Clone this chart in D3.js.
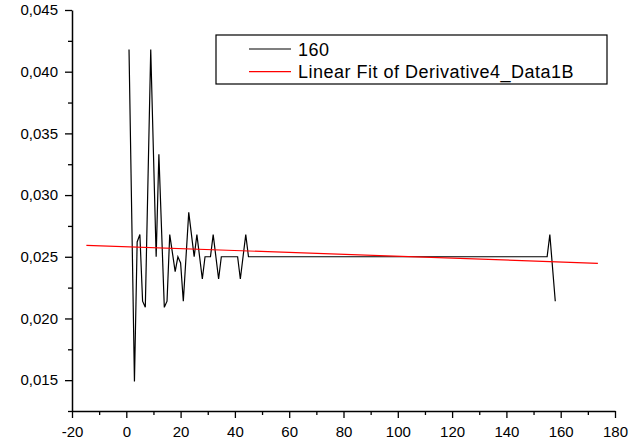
<!DOCTYPE html>
<html>
<head>
<meta charset="utf-8">
<script src="https://cdn.jsdelivr.net/npm/d3@7"></script>
<style>
    body { margin: 0; background: #fff; }
    text { font-family: Arial, "Liberation Sans", sans-serif; }
</style>
</head>
<body>
<div id="chart"></div>
<script>
// derivative curve, vertices
const xVals = [1, 3, 4, 5, 6, 7, 9, 11, 12, 14, 15, 16, 18, 19, 20, 21, 23, 25, 26, 28, 29, 31, 32, 34, 35, 41, 42, 44, 45, 155, 156, 158];
const yVals = [0.0418, 0.0149, 0.0262, 0.0268, 0.0214, 0.0209, 0.0418, 0.0250, 0.0333, 0.0209, 0.0214, 0.0268, 0.0238, 0.0250, 0.0245, 0.0214,
    0.0286, 0.0250, 0.0268, 0.0232, 0.0250, 0.0250, 0.0268, 0.0232, 0.0250, 0.0250, 0.0232, 0.0268, 0.0250, 0.0250, 0.0268, 0.0214];

// linear fit end points
const fitX = [-14.7, 173.7];
const fitY = [0.02593, 0.02447];

const xTicks = [-20, 0, 20, 40, 60, 80, 100, 120, 140, 160, 180];
const xMinor = [-10, 10, 30, 50, 70, 90, 110, 130, 150, 170];
const yTicks = [0.015, 0.020, 0.025, 0.030, 0.035, 0.040, 0.045];
const yMinor = [0.0125, 0.0175, 0.0225, 0.0275, 0.0325, 0.0375, 0.0425];

const legendLabels = ['160', 'Linear Fit of Derivative4_Data1B'];
const legendColors = ['#000', '#ff0000'];

const width = 643;
const height = 447;
const margin = {top: 10, right: 28, bottom: 36, left: 72};

let svg = d3.select('#chart').append('svg')
    .attr('width', width)
    .attr('height', height);

let x = d3.scaleLinear().domain([-20, 180]).range([margin.left, width - margin.right]);
let y = d3.scaleLinear().domain([0.0125, 0.045]).range([height - margin.bottom, margin.top]);

let commaFmt = d => d3.format('.3f')(d).replace('.', ',');

// minor ticks first, then main axes on top
svg.append('g')
    .attr('transform', 'translate(0,' + (height - margin.bottom) + ')')
    .call(d3.axisBottom(x).tickValues(xMinor).tickSize(4).tickSizeOuter(0).tickFormat(''))
    .call(g => g.select('.domain').remove());

svg.append('g')
    .attr('transform', 'translate(' + margin.left + ',0)')
    .call(d3.axisLeft(y).tickValues(yMinor).tickSize(4).tickSizeOuter(0).tickFormat(''))
    .call(g => g.select('.domain').remove());

let xAxis = svg.append('g')
    .attr('transform', 'translate(0,' + (height - margin.bottom) + ')')
    .call(d3.axisBottom(x).tickValues(xTicks).tickSize(7).tickSizeOuter(0).tickPadding(8).tickFormat(d => String(d)));

let yAxis = svg.append('g')
    .attr('transform', 'translate(' + margin.left + ',0)')
    .call(d3.axisLeft(y).tickValues(yTicks).tickSize(7).tickSizeOuter(0).tickPadding(7).tickFormat(commaFmt));

svg.selectAll('.tick line').attr('stroke', '#000').attr('stroke-width', 1.3);
svg.selectAll('.domain').attr('stroke', '#000').attr('stroke-width', 1.5);
svg.selectAll('.tick text').attr('font-size', 15).attr('fill', '#000');

// data
let points = xVals.map((v, i) => [v, yVals[i]]);
let line = d3.line().x(d => x(d[0])).y(d => y(d[1]));

svg.append('path')
    .datum(points)
    .attr('fill', 'none')
    .attr('stroke', '#000')
    .attr('stroke-width', 1.2)
    .attr('d', line);

svg.append('path')
    .datum(fitX.map((v, i) => [v, fitY[i]]))
    .attr('fill', 'none')
    .attr('stroke', legendColors[1])
    .attr('stroke-width', 1.2)
    .attr('d', line);

// legend
let legend = svg.append('g').attr('transform', 'translate(216,35)');

legend.append('rect')
    .attr('width', 391)
    .attr('height', 49)
    .attr('fill', '#fff')
    .attr('stroke', '#000')
    .attr('stroke-width', 1.2);

legendLabels.forEach((label, i) => {
    let rowY = 14 + i * 22.6;
    legend.append('line')
        .attr('x1', 33).attr('x2', 75)
        .attr('y1', rowY).attr('y2', rowY)
        .attr('stroke', legendColors[i])
        .attr('stroke-width', 1.2);
    legend.append('text')
        .attr('x', 82)
        .attr('y', rowY + 6.5)
        .attr('font-size', 18)
        .attr('letter-spacing', 0.5)
        .attr('fill', '#000')
        .text(label);
});
</script>
</body>
</html>
